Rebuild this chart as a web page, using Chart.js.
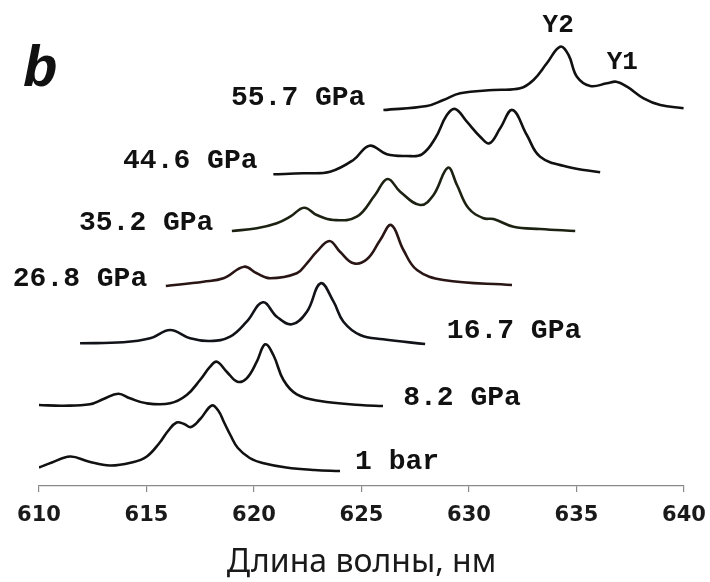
<!DOCTYPE html>
<html>
<head>
<meta charset="utf-8">
<script src="https://cdn.jsdelivr.net/npm/chart.js@4.4.1/dist/chart.umd.min.js"></script>
<style>
  html, body { margin: 0; padding: 0; background: #ffffff; }
  #wrap { width: 710px; height: 582px; position: relative; }
</style>
</head>
<body>
<div id="wrap"><canvas id="chart" width="710" height="582"></canvas></div>
<script>
// Luminescence spectra at increasing pressure, stacked with a vertical offset.
// Wavelength in nm, intensity in arbitrary units (offset included).

const pressureLabels = ['1 bar', '8.2 GPa', '16.7 GPa', '26.8 GPa', '35.2 GPa', '44.6 GPa', '55.7 GPa'];

const nm_1bar = [610.0, 610.6, 611.45, 612.3, 613.3, 614.3, 615.0, 615.6, 616.0, 616.4, 616.75, 617.07, 617.5, 618.04, 618.35, 618.6, 618.9, 619.25, 619.8, 620.4, 621.5, 622.8, 624.0];
const int_1bar = [18.5, 23.5, 29.5, 24.5, 20.5, 23.5, 29.3, 43, 55, 63.5, 62, 59, 67, 80.5, 75, 64, 51, 38, 28, 23, 18.5, 16, 15];

const nm_8_2 = [610.0, 611.13, 612.37, 613.0, 613.69, 614.23, 615.0, 616.1, 616.87, 617.49, 617.96, 618.27, 618.73, 619.23, 619.66, 620.13, 620.52, 620.9, 621.37, 621.99, 623.08, 624.94, 626.0];
const int_8_2 = [81, 80.3, 81.7, 87, 92.3, 87.7, 82.7, 82.7, 91, 106, 119.3, 124.3, 114.3, 104.3, 107.7, 124.3, 141.7, 131, 106, 91.7, 85, 81, 80];

const nm_16_7 = [611.91, 613.92, 615.17, 616.1, 617.03, 617.96, 618.89, 619.66, 620.41, 621.06, 621.76, 622.46, 623.1, 623.7, 624.16, 624.94, 626.0, 627.96];
const int_16_7 = [142.7, 143.7, 147.7, 156, 147.7, 145, 149.3, 164.3, 183.7, 169.3, 161.7, 174.3, 202.7, 184.3, 164.3, 151, 146.7, 142];

const nm_26_8 = [615.9, 617.65, 618.58, 619.54, 620.13, 620.75, 621.99, 622.46, 622.92, 623.51, 624.0, 624.63, 625.25, 625.87, 626.38, 626.95, 627.58, 628.81, 632.0];
const int_26_8 = [200, 204.3, 207.7, 219.3, 212.7, 207.7, 212.7, 222.7, 234.3, 245, 234.3, 222.7, 226.7, 246, 261, 236, 216, 206, 201];

const nm_35_2 = [618.97, 620.13, 621.06, 621.68, 622.33, 622.92, 623.7, 624.78, 625.63, 626.21, 626.8, 627.73, 628.35, 629.02, 629.44, 629.98, 630.68, 631.14, 632.07, 633.31, 634.94];
const int_35_2 = [255, 257.7, 262.7, 269.3, 278.3, 271, 266, 269.3, 291, 307, 294.3, 281, 291, 318.3, 301, 277.7, 267.7, 267, 259.3, 257, 255];

const nm_44_6 = [620.9, 622.3, 623.54, 624.62, 625.37, 626.18, 627.11, 627.81, 628.43, 628.97, 629.36, 629.9, 630.52, 630.95, 631.45, 632.02, 632.69, 633.31, 634.56, 636.1];
const int_44_6 = [311.7, 312.7, 314.3, 326, 340.3, 331.7, 330, 331.7, 347.7, 371, 377, 364.3, 349.3, 342.7, 357.7, 376, 351, 329.3, 319.3, 313.7];

const nm_55_7 = [626.02, 628.04, 628.81, 629.59, 631.14, 632.38, 633.0, 633.62, 634.24, 634.63, 635.02, 635.64, 636.42, 636.85, 637.35, 638.12, 638.9, 639.98];
const int_55_7 = [376, 380, 386, 392.7, 396, 397.7, 406, 422.7, 439.3, 431, 409.3, 400, 402.7, 404.3, 399.3, 387.7, 381, 377.7];

const xTicks = [610, 615, 620, 625, 630, 635, 640];
const xTitle = 'Длина волны, нм';
const peakNames = ['Y2', 'Y1'];
const panelLetter = 'b';

const seriesNm = [nm_1bar, nm_8_2, nm_16_7, nm_26_8, nm_35_2, nm_44_6, nm_55_7];
const seriesInt = [int_1bar, int_8_2, int_16_7, int_26_8, int_35_2, int_44_6, int_55_7];
const lineColors = ['#111111', '#111111', '#111318', '#2a1515', '#1c2212', '#111111', '#111111'];

const datasets = pressureLabels.map((label, i) => ({
  label,
  data: seriesNm[i].map((x, k) => ({ x, y: seriesInt[i][k] })),
  borderColor: lineColors[i],
  borderWidth: 2.6,
  pointRadius: 0,
  fill: false,
  tension: 0.4,
  cubicInterpolationMode: 'default'
}));

// Text placed next to each curve, in data coordinates (nm, intensity)
const textAnchors = [
  { text: pressureLabels[0], x: 624.7, y: 24 },
  { text: pressureLabels[1], x: 626.94, y: 88 },
  { text: pressureLabels[2], x: 628.97, y: 155.5 },
  { text: pressureLabels[3], x: 608.78, y: 207.5 },
  { text: pressureLabels[4], x: 611.86, y: 263.5 },
  { text: pressureLabels[5], x: 613.91, y: 325 },
  { text: pressureLabels[6], x: 618.93, y: 388 }
];
const peakAnchors = [
  { text: peakNames[0], x: 634.15, y: 461 },
  { text: peakNames[1], x: 637.13, y: 424 }
];

const curveText = {
  id: 'curveText',
  afterDatasetsDraw(chart) {
    const { ctx, scales: { x, y }, chartArea } = chart;
    ctx.save();
    ctx.fillStyle = '#111111';
    ctx.textBaseline = 'middle';
    ctx.font = 'bold 28px "Courier New", "Liberation Mono", monospace';
    ctx.textAlign = 'left';
    textAnchors.forEach(a => ctx.fillText(a.text, x.getPixelForValue(a.x), y.getPixelForValue(a.y)));
    ctx.font = 'bold 26px "Courier New", "Liberation Mono", monospace';
    ctx.textAlign = 'center';
    peakAnchors.forEach(a => ctx.fillText(a.text, x.getPixelForValue(a.x), y.getPixelForValue(a.y)));
    // panel letter
    ctx.font = 'italic bold 58px "Courier New", "Liberation Mono", monospace';
    ctx.textAlign = 'left';
    ctx.textBaseline = 'alphabetic';
    ctx.fillText(panelLetter, chartArea.left - 16, chartArea.top + 76);
    ctx.restore();
  }
};

new Chart(document.getElementById('chart'), {
  type: 'line',
  data: { datasets },
  plugins: [curveText],
  options: {
    responsive: false,
    animation: false,
    layout: { padding: { left: 39, right: 26, top: 10, bottom: 0 } },
    plugins: { legend: { display: false }, tooltip: { enabled: false } },
    scales: {
      x: {
        type: 'linear',
        min: 610,
        max: 640,
        afterBuildTicks(scale) { scale.ticks = xTicks.map(v => ({ value: v })); },
        afterFit(scale) {
          scale.height = 96;
          scale.paddingLeft = 0;
          scale.paddingRight = 0;
        },
        border: { display: true, color: '#8a8a8a', width: 1.2 },
        grid: { drawOnChartArea: false, drawTicks: true, tickLength: 6, color: '#8a8a8a', lineWidth: 1.2 },
        ticks: {
          padding: 11,
          color: '#1a1a1a',
          font: { family: '"DejaVu Sans", Verdana, sans-serif', size: 21, weight: 'bold' },
          maxRotation: 0
        },
        title: {
          display: true,
          text: xTitle,
          color: '#1a1a1a',
          font: { family: '"Noto Sans", "Open Sans", sans-serif', size: 32 },
          padding: { top: 0, bottom: 0 }
        }
      },
      y: {
        type: 'linear',
        display: false,
        min: 0,
        max: 476
      }
    }
  }
});
</script>
</body>
</html>
